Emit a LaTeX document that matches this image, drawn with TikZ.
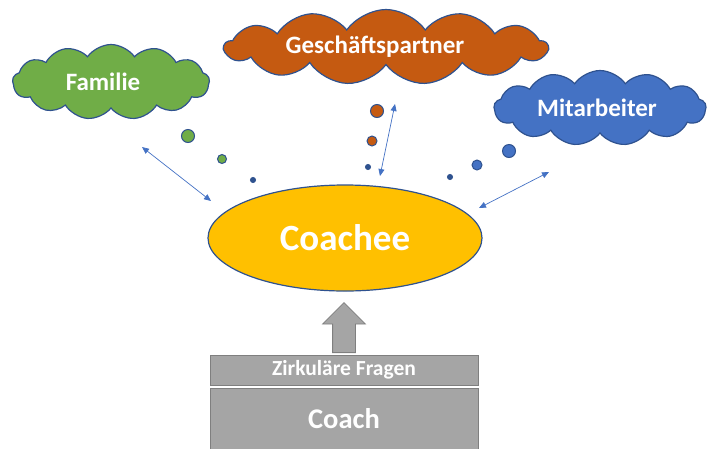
\documentclass[tikz,border=0pt]{standalone}
\usepackage{fontspec}
\setmainfont{Carlito}
\usepackage{tikz}
\usetikzlibrary{shapes.geometric,shapes.symbols,shapes.arrows,arrows.meta}
\definecolor{rim}{HTML}{2F528F}
\definecolor{famgreen}{HTML}{70AD47}
\definecolor{partorange}{HTML}{C55A11}
\definecolor{mitblue}{HTML}{4472C4}
\definecolor{coachyellow}{HTML}{FFC000}
\definecolor{boxgray}{HTML}{A5A5A5}
\definecolor{boxrim}{HTML}{7F7F7F}

\begin{document}
\begin{tikzpicture}[x=1pt,y=-1pt,
    wolke/.style={cloud,cloud puffs=13,cloud puff arc=110,cloud ignores aspect,draw=rim,line width=1.2pt,
      text=white,font=\bfseries\fontsize{25}{30}\selectfont,minimum height=75pt,inner sep=0pt},
    blase/.style={circle,draw=rim,line width=1pt,inner sep=0pt},
    pfeil/.style={mitblue,line width=0.7pt,{Triangle[length=7pt,width=6pt]}-{Triangle[length=7pt,width=6pt]}},
    kasten/.style={rectangle,fill=boxgray,draw=boxrim,line width=0.8pt,text=white,minimum width=268pt}]
      \useasboundingbox (0,0) rectangle (708,448);
      % Wolken
      \node[wolke,fill=famgreen,minimum width=197pt] at (111,82) (familie) {\hspace*{-16pt}Familie};
      \node[wolke,fill=partorange,minimum width=323pt] at (386,47) (partner) {\hspace*{-22pt}Geschäftspartner};
      \node[wolke,fill=mitblue,minimum width=212pt] at (600,108) (mitarbeiter) {\hspace*{-6pt}Mitarbeiter};
      % Coachee
      \node[ellipse,fill=coachyellow,draw=rim,line width=1.2pt,minimum width=274pt,minimum height=106pt,
        text=white,font=\bfseries\fontsize{37}{44}\selectfont] at (345,238) (coachee) {Coachee};
      % Blasen
      \node[blase,fill=famgreen,minimum size=13pt] at (188,136) (fam1) {};
      \node[blase,fill=famgreen,minimum size=9pt] at (222,159) (fam2) {};
      \node[blase,fill=rim,minimum size=5pt] at (253,180) (fam3) {};
      \node[blase,fill=partorange,minimum size=13pt] at (377,111) (part1) {};
      \node[blase,fill=partorange,minimum size=10pt] at (372,141) (part2) {};
      \node[blase,fill=rim,minimum size=5pt] at (368,167) (part3) {};
      \node[blase,fill=mitblue,minimum size=13pt] at (509,151) (mit1) {};
      \node[blase,fill=mitblue,minimum size=10pt] at (477,165) (mit2) {};
      \node[blase,fill=rim,minimum size=5pt] at (450,177) (mit3) {};
      % Pfeile
      \coordinate (famA) at (142,147);
      \coordinate (famB) at (211,201);
      \coordinate (partA) at (395,104);
      \coordinate (partB) at (380,176);
      \coordinate (mitA) at (549,172);
      \coordinate (mitB) at (479,208);
      \draw[pfeil] (famA) -- (famB);
      \draw[pfeil] (partA) -- (partB);
      \draw[pfeil] (mitA) -- (mitB);
      % Coach
      \node[kasten,minimum height=30pt,font=\bfseries\fontsize{21.5}{25}\selectfont] at (344,370) (fragen) {Zirkuläre Fragen};
      \node[kasten,minimum height=62pt,font=\bfseries\fontsize{28.5}{34}\selectfont] at (344,419) (coach) {Coach};
      \node[single arrow,rotate=90,fill=boxgray,draw=boxrim,line width=0.8pt,minimum height=50pt,
        minimum width=42pt,single arrow head extend=10pt,inner sep=11pt,anchor=tail] at (344,353) (hoch) {};
    \end{tikzpicture}
\end{document}
